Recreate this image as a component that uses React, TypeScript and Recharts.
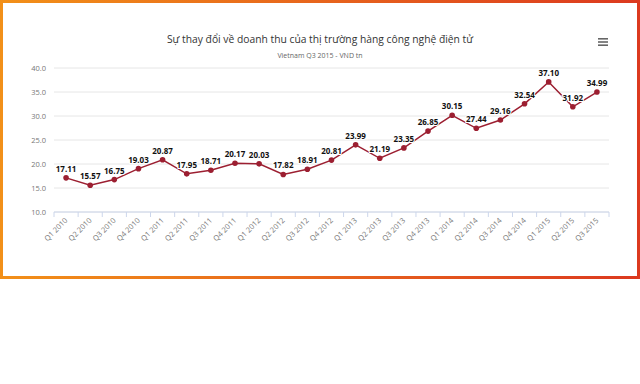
import React from 'react';
import { ComposedChart, Line, XAxis, YAxis, CartesianGrid, LabelList } from 'recharts';

const quarters = [
  'Q1 2010', 'Q2 2010', 'Q3 2010', 'Q4 2010',
  'Q1 2011', 'Q2 2011', 'Q3 2011', 'Q4 2011',
  'Q1 2012', 'Q2 2012', 'Q3 2012', 'Q4 2012',
  'Q1 2013', 'Q2 2013', 'Q3 2013', 'Q4 2013',
  'Q1 2014', 'Q2 2014', 'Q3 2014', 'Q4 2014',
  'Q1 2015', 'Q2 2015', 'Q3 2015',
];
const revenue = [
  17.11, 15.57, 16.75, 19.03,
  20.87, 17.95, 18.71, 20.17,
  20.03, 17.82, 18.91, 20.81,
  23.99, 21.19, 23.35, 26.85,
  30.15, 27.44, 29.16, 32.54,
  37.1, 31.92, 34.99,
];
const yTicks = [10, 15, 20, 25, 30, 35, 40];

const data = quarters.map((q, i) => ({ q, value: revenue[i] }));

const FONT = '"Open Sans", "DejaVu Sans", sans-serif';

// x tick: rotated label at the category, tick marks on the band edges
function QuarterTick(props: any) {
  const { x, y, payload, index, width, visibleTicksCount } = props;
  const half = width / visibleTicksCount / 2;
  const top = y - 7;
  return (
    <g>
      {index === 0 && <line x1={x - half} x2={x - half} y1={top} y2={top + 5} stroke="#ccd6eb" />}
      <line x1={x + half} x2={x + half} y1={top} y2={top + 5} stroke="#ccd6eb" />
      <text
        x={x + 2}
        y={y + 2}
        textAnchor="end"
        transform={`rotate(-45, ${x + 2}, ${y + 2})`}
        fontSize={7.5}
        fill="#777"
        stroke="none"
        fontFamily={FONT}
      >
        {payload.value}
      </text>
    </g>
  );
}

function ValueLabel(props: any) {
  const { x, y, value } = props;
  return (
    <text
      x={x}
      y={y - 6}
      textAnchor="middle"
      fontSize={8}
      fontWeight="bold"
      fill="#111"
      stroke="#fff"
      strokeWidth={2}
      paintOrder="stroke"
      fontFamily={FONT}
    >
      {Number(value).toFixed(2)}
    </text>
  );
}

export default function App() {
  return (
    <div
      style={{
        position: 'absolute',
        left: 0,
        top: 0,
        width: 640,
        height: 279,
        padding: 3,
        boxSizing: 'border-box',
        background: 'linear-gradient(to right, #f29019, #dc391f)',
      }}
    >
      <div style={{ position: 'relative', width: 634, height: 273, background: '#fff' }}>
        <div
          style={{
            position: 'absolute',
            left: 0,
            width: 634,
            top: 29,
            textAlign: 'center',
            fontFamily: FONT,
            fontSize: 10.3,
            color: '#333',
          }}
        >
          Sự thay đổi về doanh thu của thị trường hàng công nghệ điện tử
        </div>
        <div
          style={{
            position: 'absolute',
            left: 0,
            width: 634,
            top: 48,
            textAlign: 'center',
            fontFamily: FONT,
            fontSize: 7,
            color: '#666',
          }}
        >
          Vietnam Q3 2015 - VND tn
        </div>
        <svg style={{ position: 'absolute', left: 595, top: 34 }} width={11} height={10}>
          <rect x={0} y={1} width={10} height={1.6} fill="#666" />
          <rect x={0} y={4.2} width={10} height={1.6} fill="#666" />
          <rect x={0} y={7.4} width={10} height={1.6} fill="#666" />
        </svg>
        <ComposedChart
          width={634}
          height={273}
          data={data}
          margin={{ top: 65, right: 28, bottom: 0, left: 0 }}
        >
          <CartesianGrid vertical={false} stroke="#e6e6e6" />
          <XAxis
            dataKey="q"
            scale="band"
            height={64}
            interval={0}
            stroke="#ccd6eb"
            tickLine={false}
            tickSize={5}
            tickMargin={2}
            tick={<QuarterTick />}
          />
          <YAxis
            width={51}
            domain={[10, 40]}
            ticks={yTicks}
            axisLine={false}
            tickLine={false}
            tickSize={0}
            tickMargin={8}
            tickFormatter={(v: number) => v.toFixed(1)}
            tick={{ fontSize: 7.5, fill: '#777', fontFamily: FONT }}
          />
          <Line
            dataKey="value"
            stroke="#9c1f31"
            strokeWidth={1.5}
            dot={{ r: 2.8, fill: '#9c1f31', stroke: '#9c1f31', strokeWidth: 0 }}
            isAnimationActive={false}
          >
            <LabelList dataKey="value" content={<ValueLabel />} />
          </Line>
        </ComposedChart>
      </div>
    </div>
  );
}
